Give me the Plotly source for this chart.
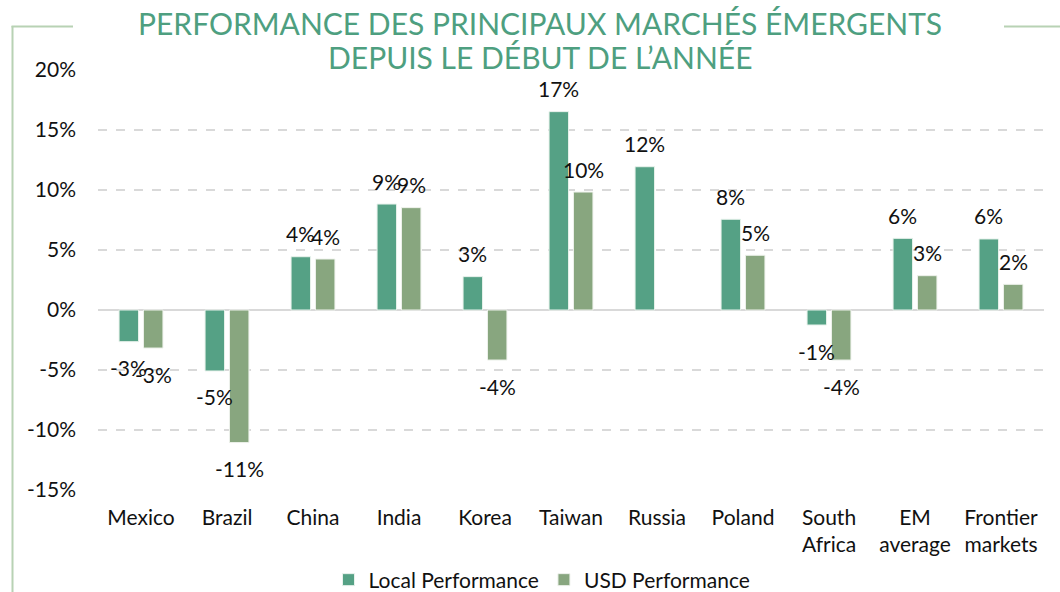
import plotly.graph_objects as go

categories = ["Mexico", "Brazil", "China", "India", "Korea", "Taiwan", "Russia",
              "Poland", "South<br>Africa", "EM<br>average", "Frontier<br>markets"]
local_perf = [-2.64, -5.08, 4.44, 8.83, 2.78, 16.53, 11.94, 7.56, -1.25, 5.97, 5.92]
usd_perf = [-3.17, -11.05, 4.25, 8.53, -4.17, 9.83, None, 4.56, -4.17, 2.86, 2.14]
tick_vals = [-15, -10, -5, 0, 5, 10, 15, 20]
tick_text = ["-15%", "-10%", "-5%", "0%", "5%", "10%", "15%", "20%"]
title_lines = ["PERFORMANCE DES PRINCIPAUX MARCHÉS ÉMERGENTS", "DEPUIS LE DÉBUT DE L’ANNÉE"]

W, H = 1060, 592
ML, MR, MT, MB = 98, 16, 70, 102
PW, PH = W - ML - MR, H - MT - MB


def px_x(p):
    return (p - ML) / PW


def px_y(p):
    return (H - MB - p) / PH


FONT = "Lato"
TXT = "#111111"
LOCAL_COL = "#55A185"
USD_COL = "#88A67F"

fig = go.Figure()
fig.add_trace(go.Bar(
    x=categories, y=local_perf, name="Local Performance",
    marker=dict(color=LOCAL_COL, line=dict(color="#E8F2EC", width=1)),
))
fig.add_trace(go.Bar(
    x=categories, y=usd_perf, name="USD Performance",
    marker=dict(color=USD_COL, line=dict(color="#EEF2EC", width=1)),
))

annotations = []
for series, xs in ((local_perf, -12.2), (usd_perf, 12.2)):
    for cat, v in zip(categories, series):
        if v is None:
            continue
        annotations.append(dict(
            x=cat, y=v, xref="x", yref="y", text=f"{round(v)}%", showarrow=False,
            xshift=xs, yshift=23 if v >= 0 else -26, yanchor="middle",
            font=dict(family=FONT, size=21, color=TXT),
        ))

for line, ypx in zip(title_lines, (23, 57)):
    annotations.append(dict(
        text=line, xref="paper", yref="paper", x=px_x(540), y=px_y(ypx),
        xanchor="center", yanchor="middle", showarrow=False,
        font=dict(family=FONT, size=30, color="#4E9F80"),
    ))

line_col = "#B8D2B4"
shapes = [
    dict(type="line", xref="paper", yref="paper", x0=px_x(12.5), x1=px_x(12.5),
         y0=px_y(26), y1=px_y(600), line=dict(color=line_col, width=2)),
    dict(type="line", xref="paper", yref="paper", x0=px_x(11.5), x1=px_x(73),
         y0=px_y(26.5), y1=px_y(26.5), line=dict(color=line_col, width=2)),
    dict(type="line", xref="paper", yref="paper", x0=px_x(1004), x1=px_x(1062),
         y0=px_y(26.5), y1=px_y(26.5), line=dict(color=line_col, width=2)),
]

fig.update_layout(
    width=W, height=H,
    margin=dict(l=ML, r=MR, t=MT, b=MB, autoexpand=False),
    paper_bgcolor="white", plot_bgcolor="white",
    font=dict(family=FONT, size=21, color=TXT),
    barmode="group", bargap=0.433, bargroupgap=0.2,
    xaxis=dict(showgrid=False, showline=False, ticks="", ticklabelstandoff=13,
               tickfont=dict(family=FONT, size=21, color=TXT)),
    yaxis=dict(range=[-15, 20], tickvals=tick_vals, ticktext=tick_text,
               showgrid=True, gridcolor="#D9D9D9", gridwidth=1.5, griddash="dash",
               zeroline=True, zerolinecolor="#D9D9D9", zerolinewidth=2,
               showline=False, ticks="", ticklabelstandoff=21,
               tickfont=dict(family=FONT, size=21, color=TXT)),
    legend=dict(orientation="h", x=px_x(542), xanchor="center",
                y=px_y(580), yanchor="middle",
                font=dict(family=FONT, size=21, color=TXT),
                itemwidth=30, tracegroupgap=0),
    annotations=annotations,
    shapes=shapes,
    showlegend=True,
)

fig.write_html("out.html", config={"displayModeBar": False},
               post_script="document.body.style.margin='0';document.body.style.overflow='hidden';")
